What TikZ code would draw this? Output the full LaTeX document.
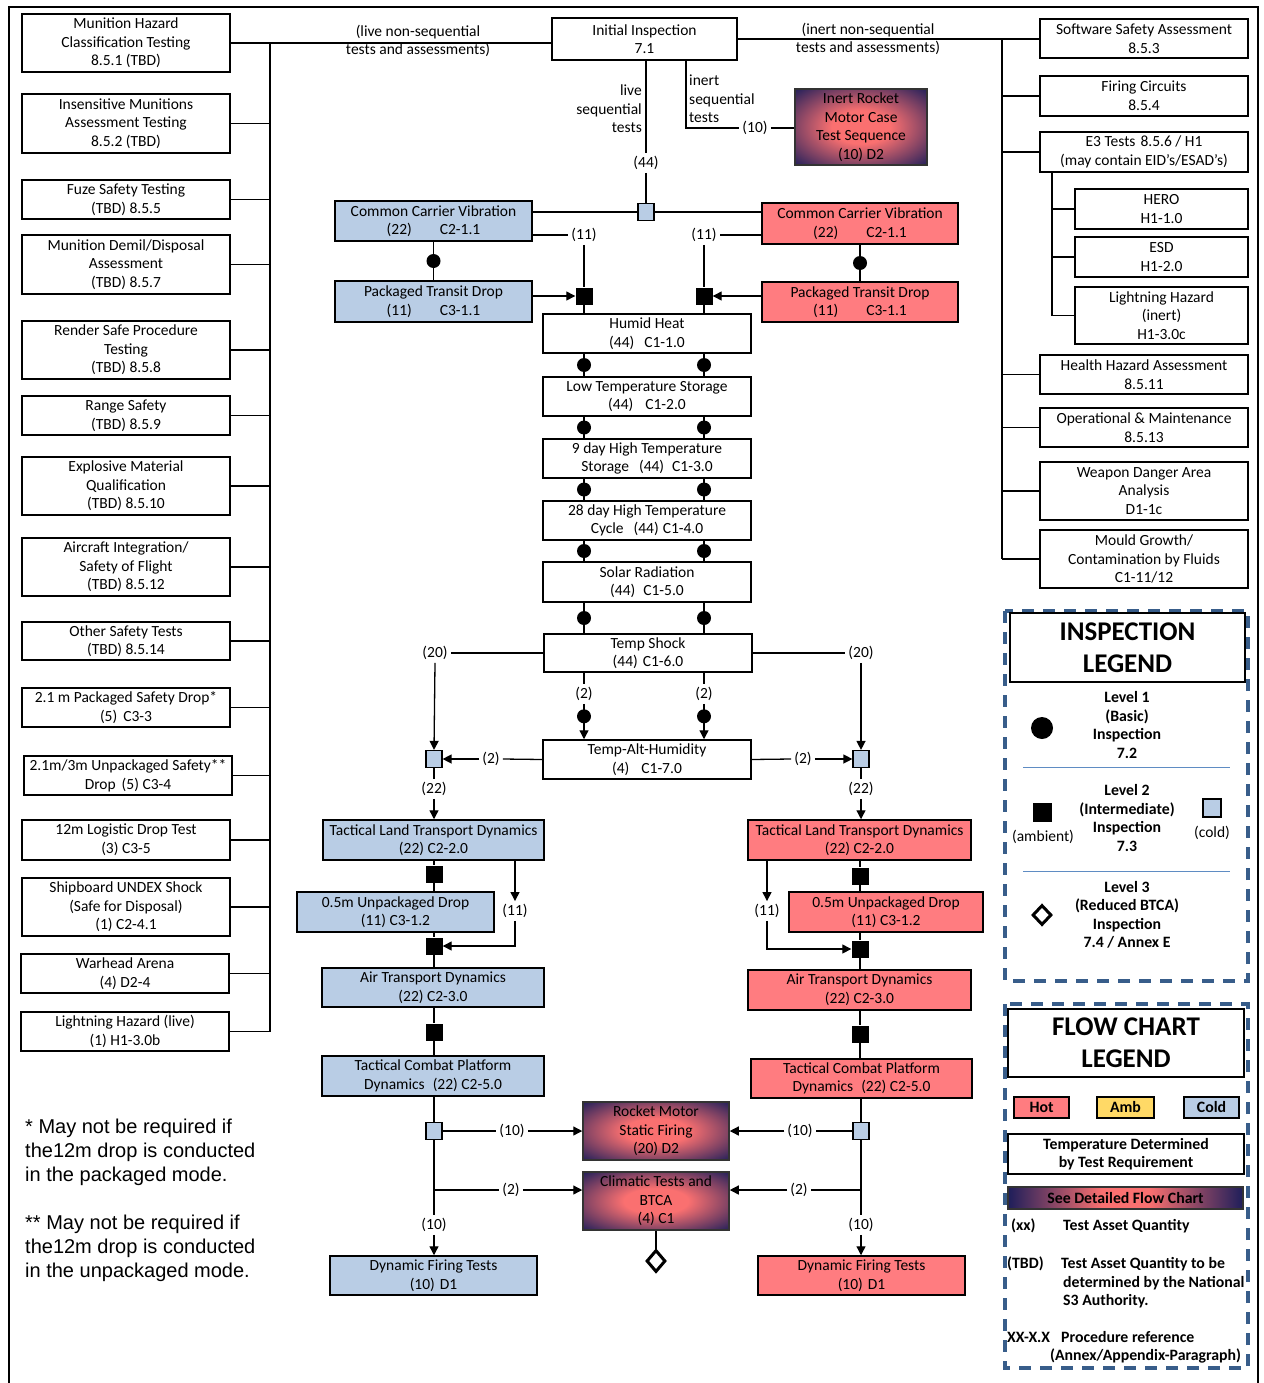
\documentclass[tikz,border=0pt]{standalone}
\usepackage{fontspec}
\setmainfont{Carlito}
\newfontfamily\arialf{Liberation Sans}
\usetikzlibrary{arrows.meta,calc,shapes.geometric}
\definecolor{coldc}{RGB}{185,205,229}
\definecolor{hotc}{RGB}{255,124,128}
\definecolor{ambc}{RGB}{255,217,102}
\definecolor{gin}{RGB}{250,112,112}
\definecolor{gout}{RGB}{30,30,90}
\definecolor{legc}{RGB}{56,93,138}
\definecolor{sepc}{RGB}{95,140,195}
\pgfdeclareradialshading{rgrad}{\pgfpoint{0bp}{0bp}}{color(0bp)=(gin); color(11bp)=(gin); color(36bp)=(gout); color(50bp)=(gout)}
\pgfdeclarehorizontalshading{hgrad}{100bp}{color(0bp)=(gout); color(25bp)=(gout); color(45bp)=(gin); color(55bp)=(gin); color(75bp)=(gout); color(100bp)=(gout)}
\newcommand\fsz{\fontsize{15.5}{18.6}\selectfont}
\newcommand\fleg{\fontsize{15.8}{18.5}\selectfont\bfseries}
\newcommand\ftitle{\fontsize{27}{32}\selectfont\bfseries}
\newcommand\fnt{\arialf\fontsize{20}{24}\selectfont}
\newcommand\mkbox[7]{\node[#2, minimum width={#5-#3}, minimum height={#6-#4}] (#1) at ({(#3+#5)/2},{(#4+#6)/2}) {#7};}
\tikzset{
 bx/.style={draw, line width=1.5pt, align=center, inner sep=0pt, font=\fsz},
 wb/.style={bx, fill=white},
 cb/.style={bx, fill=coldc},
 hb/.style={bx, fill=hotc},
 gb/.style={bx, draw=black!80, shade, shading=rgrad},
 csq/.style={draw, line width=1.2pt, fill=coldc, minimum width=16pt, minimum height=17pt, inner sep=0pt},
 bsq/.style={fill=black, minimum size=17pt, inner sep=0pt},
 bdot/.style={circle, fill=black, minimum size=14pt, inner sep=0pt},
 lbl/.style={font=\fsz, inner sep=3pt},
 ln/.style={line width=1.3pt},
 ar/.style={line width=1.3pt, -{Triangle[length=9pt,width=9pt]}},
 lgt/.style={font=\fleg, anchor=west, inner sep=0pt},
}
\begin{document}
\begin{tikzpicture}[x=1pt,y=-1pt]
\useasboundingbox (0,0) rectangle (1263,1383);
\draw[line width=2.5pt] (9,1383) -- (9,7) -- (1258,7) -- (1258,1383);
% ---------- left column
\mkbox{l1}{wb}{22}{14}{230}{72}{Munition Hazard\\Classification Testing\\8.5.1 (TBD)}
\mkbox{l2}{wb}{22}{94}{230}{153}{Insensitive Munitions\\Assessment Testing\\8.5.2 (TBD)}
\mkbox{l3}{wb}{22}{180}{230}{219}{Fuze Safety Testing\\(TBD) 8.5.5}
\mkbox{l4}{wb}{22}{235}{230}{294}{Munition Demil/Disposal\\Assessment\\(TBD) 8.5.7}
\mkbox{l5}{wb}{22}{321}{230}{379}{Render Safe Procedure\\Testing\\(TBD) 8.5.8}
\mkbox{l6}{wb}{22}{396}{230}{435}{Range Safety\\(TBD) 8.5.9}
\mkbox{l7}{wb}{22}{457}{230}{515}{Explosive Material\\Qualification\\(TBD) 8.5.10}
\mkbox{l8}{wb}{22}{538}{230}{596}{Aircraft Integration/\\Safety of Flight\\(TBD) 8.5.12}
\mkbox{l9}{wb}{22}{622}{230}{660}{Other Safety Tests\\(TBD) 8.5.14}
\mkbox{l10}{wb}{22}{688}{230}{727}{2.1 m Packaged Safety Drop*\\(5)\hspace{6pt}C3-3}
\mkbox{l11}{wb}{24}{756}{232}{795}{2.1m/3m Unpackaged Safety**\\Drop\hspace{6pt}(5) C3-4}
\mkbox{l12}{wb}{22}{820}{230}{860}{12m Logistic Drop Test\\(3) C3-5}
\mkbox{l13}{wb}{22}{878}{230}{936}{Shipboard UNDEX Shock\\(Safe for Disposal)\\(1) C2-4.1}
\mkbox{l14}{wb}{21}{954}{229}{993}{Warhead Arena\\(4) D2-4}
\mkbox{l15}{wb}{21}{1012}{229}{1051}{Lightning Hazard (live)\\(1) H1-3.0b}
% ---------- right column
\mkbox{sw}{wb}{1040}{19}{1248}{58}{Software Safety Assessment\\8.5.3}
\mkbox{fc}{wb}{1040}{76}{1248}{116}{Firing Circuits\\8.5.4}
\mkbox{e3}{wb}{1040}{132}{1248}{172}{E3 Tests\hspace{5pt}8.5.6 / H1\\(may contain EID’s/ESAD’s)}
\mkbox{hero}{wb}{1075}{189}{1248}{229}{HERO\\H1-1.0}
\mkbox{esd}{wb}{1075}{237}{1248}{277}{ESD\\H1-2.0}
\mkbox{lhi}{wb}{1075}{287}{1248}{344}{Lightning Hazard\\(inert)\\H1-3.0c}
\mkbox{hha}{wb}{1040}{355}{1248}{394}{Health Hazard Assessment\\8.5.11}
\mkbox{om}{wb}{1040}{408}{1248}{447}{Operational \& Maintenance\\8.5.13}
\mkbox{wda}{wb}{1040}{462}{1248}{520}{Weapon Danger Area\\Analysis\\D1-1c}
\mkbox{mg}{wb}{1040}{530}{1248}{588}{Mould Growth/\\Contamination by Fluids\\C1-11/12}
% ---------- top centre
\mkbox{ii}{wb}{552}{18}{737}{60}{Initial Inspection\\7.1}
\mkbox{irm}{gb}{795}{89}{927}{165}{Inert Rocket\\Motor Case\\Test Sequence\\(10) D2}
\node[font=\fsz, align=center, inner sep=0pt] (tlive) at (418,41) {(live non-sequential\\tests and assessments)};
\node[font=\fsz, align=center, inner sep=0pt] (tinert) at (868,39) {(inert non-sequential\\tests and assessments)};
\node[font=\fsz, align=right, anchor=east, inner sep=0pt] (tls) at (642,109) {live\\sequential\\tests};
\node[font=\fsz, align=left, anchor=west, inner sep=0pt] (tis) at (689,99) {inert\\sequential\\tests};
\node[lbl] (l44) at (646,163) {(44)};
\node[lbl] (l10a) at (755,128) {(10)};
\node[csq] (sq0) at (646,212) {};
\coordinate (lbus) at (270,0);
\coordinate (rbus) at (1002,0);
\coordinate (sbus) at (1052,0);
\coordinate (cx1) at (584,0);
\coordinate (cx2) at (704,0);
% ---------- carrier vibration & transit drop
\mkbox{ccvc}{cb}{335}{201}{532}{241}{Common Carrier Vibration\\(22)\hspace{28pt}C2-1.1}
\mkbox{ccvh}{hb}{762}{203}{958}{244}{Common Carrier Vibration\\(22)\hspace{28pt}C2-1.1}
\mkbox{ptdc}{cb}{335}{281}{532}{322}{Packaged Transit Drop\\(11)\hspace{28pt}C3-1.1}
\mkbox{ptdh}{hb}{762}{282}{958}{322}{Packaged Transit Drop\\(11)\hspace{28pt}C3-1.1}
\node[lbl] (l11a) at (584,235) {(11)};
\node[lbl] (l11b) at (704,235) {(11)};
\node[bsq] (bq1) at (584,296) {};
\node[bsq] (bq2) at (704,296) {};
% ---------- central chain
\mkbox{hh}{wb}{543}{314}{751}{353}{Humid Heat\\(44)\hspace{10pt}C1-1.0}
\mkbox{lts}{wb}{543}{377}{751}{416}{Low Temperature Storage\\(44)\hspace{12pt}C1-2.0}
\mkbox{d9}{wb}{543}{439}{751}{478}{9 day High Temperature\\Storage\hspace{10pt}(44)\hspace{8pt}C1-3.0}
\mkbox{d28}{wb}{543}{501}{751}{540}{28 day High Temperature\\Cycle\hspace{10pt}(44)\hspace{4pt}C1-4.0}
\mkbox{sol}{wb}{543}{562}{751}{602}{Solar Radiation\\(44)\hspace{8pt}C1-5.0}
\mkbox{ts}{wb}{544}{634}{752}{672}{Temp Shock\\(44)\hspace{5pt}C1-6.0}
\mkbox{tah}{wb}{543}{740}{751}{779}{Temp-Alt-Humidity\\(4)\hspace{12pt}C1-7.0}
\node[lbl] (l2a) at (584,694) {(2)};
\node[lbl] (l2b) at (704,694) {(2)};
\node[lbl] (l20a) at (435,653) {(20)};
\node[lbl] (l20b) at (861,653) {(20)};
\node[lbl] (l2c) at (491,759) {(2)};
\node[lbl] (l2d) at (803,759) {(2)};
\node[csq] (cs1) at (434,759) {};
\node[csq] (cs2) at (861,759) {};
\node[lbl] (l22a) at (434,789) {(22)};
\node[lbl] (l22b) at (861,789) {(22)};
% ---------- cold branch
\mkbox{tltc}{cb}{323}{820}{544}{860}{Tactical Land Transport Dynamics\\(22) C2-2.0}
\mkbox{udc}{cb}{297}{892}{494}{932}{0.5m Unpackaged Drop\\(11) C3-1.2}
\mkbox{atdc}{cb}{322}{968}{544}{1007}{Air Transport Dynamics\\(22) C2-3.0}
\mkbox{tcpc}{cb}{322}{1056}{544}{1096}{Tactical Combat Platform\\Dynamics\hspace{8pt}(22) C2-5.0}
\mkbox{dftc}{cb}{330}{1256}{537}{1295}{Dynamic Firing Tests\\(10)\hspace{5pt}D1}
\node[bsq] (bq3) at (434,874) {};
\node[bsq] (bq4) at (434,946) {};
\node[bsq] (bq5) at (434,1032) {};
\node[csq] (cs3) at (434,1131) {};
\node[lbl] (l11c) at (515,911) {(11)};
\node[lbl] (l10c) at (434,1225) {(10)};
\node[lbl] (l10d) at (512,1131) {(10)};
\node[lbl] (l2e) at (511,1190) {(2)};
% ---------- hot branch
\mkbox{tlth}{hb}{748}{820}{971}{860}{Tactical Land Transport Dynamics\\(22) C2-2.0}
\mkbox{udh}{hb}{789}{892}{983}{932}{0.5m Unpackaged Drop\\(11) C3-1.2}
\mkbox{atdh}{hb}{748}{970}{971}{1010}{Air Transport Dynamics\\(22) C2-3.0}
\mkbox{tcph}{hb}{751}{1059}{972}{1098}{Tactical Combat Platform\\Dynamics\hspace{8pt}(22) C2-5.0}
\mkbox{dfth}{hb}{758}{1256}{965}{1295}{Dynamic Firing Tests\\(10)\hspace{5pt}D1}
\node[bsq] (bq6) at (860,876) {};
\node[bsq] (bq7) at (860,949) {};
\node[bsq] (bq8) at (860,1034) {};
\node[csq] (cs4) at (861,1131) {};
\node[lbl] (l11e) at (767,911) {(11)};
\node[lbl] (l10g) at (861,1225) {(10)};
\node[lbl] (l10f) at (800,1131) {(10)};
\node[lbl] (l2f) at (799,1190) {(2)};
% ---------- centre bottom
\mkbox{rm}{gb}{583}{1102}{729}{1160}{Rocket Motor\\Static Firing\\(20) D2}
\mkbox{clim}{gb}{583}{1172}{729}{1230}{Climatic Tests and\\BTCA\\(4) C1}
\node[diamond, draw, line width=3pt, fill=white, minimum width=19pt, minimum height=22pt, inner sep=0pt] (dia) at (656,1261) {};
% ================= connectors
\draw[ln] (l1.east) -- (l1.east -| ii.west);
\draw[ln] (l1.east -| lbus) -- (l15.east -| lbus);
\foreach \n in {l2,l3,l4,l5,l6,l7,l8,l9,l10,l11,l12,l13,l14,l15}
  \draw[ln] (\n.east) -- (\n.east -| lbus);
\draw[ln] (ii.east) -- (ii.east -| sw.west);
\draw[ln] (ii.east -| rbus) -- (mg.west -| rbus);
\foreach \n in {fc,e3,hha,om,wda,mg}
  \draw[ln] (\n.west) -- (\n.west -| rbus);
\draw[ln] (e3.south -| sbus) -- (lhi.west -| sbus);
\foreach \n in {hero,esd,lhi}
  \draw[ln] (\n.west) -- (\n.west -| sbus);
% live / inert
\draw[ln] (ii.south -| l44) -- (l44.north);
\draw[ln] (l44.south) -- (sq0.north);
\draw[ln] (ii.south -| 686,0) |- (l10a.west);
\draw[ln] (l10a.east) -- (irm.west |- l10a);
\draw[ln] (ccvc.east |- sq0) -- (sq0.west);
\draw[ln] (sq0.east) -- (ccvh.west |- sq0);
% (11)
\draw[ln] (ccvc.east |- l11a) -- (l11a.west);
\draw[ln] (l11a.south) -- (bq1.north);
\draw[ln] (ccvh.west |- l11b) -- (l11b.east);
\draw[ln] (l11b.south) -- (bq2.north);
\draw[ar] (ptdc.east |- bq1) -- (bq1.west);
\draw[ar] (ptdh.west |- bq2) -- (bq2.east);
\draw[ln] (ccvc.south) -- (ptdc.north) node[bdot, midway] {};
\draw[ln] (ccvh.south) -- (ptdh.north) node[bdot, midway] {};
\draw[ln] (bq1.south) -- (hh.north -| bq1);
\draw[ln] (bq2.south) -- (hh.north -| bq2);
% central chain
\foreach \a/\b in {hh/lts,lts/d9,d9/d28,d28/sol,sol/ts} {
  \draw[ln] (\a.south -| cx1) -- (\b.north -| cx1) node[bdot, midway] {};
  \draw[ln] (\a.south -| cx2) -- (\b.north -| cx2) node[bdot, midway] {};
}
\draw[ln] (ts.south -| l2a) -- (l2a.north);
\draw[ar] (l2a.south) -- (tah.north -| l2a) node[bdot, pos=0.35] {};
\draw[ln] (ts.south -| l2b) -- (l2b.north);
\draw[ar] (l2b.south) -- (tah.north -| l2b) node[bdot, pos=0.35] {};
\draw[ln] (ts.west) -- (l20a.east);
\draw[ar] (l20a.south) -- (cs1.north);
\draw[ln] (ts.east) -- (l20b.west);
\draw[ar] (l20b.south) -- (cs2.north);
\draw[ln] (tah.west) -- (l2c.east);
\draw[ar] (l2c.west) -- (cs1.east);
\draw[ln] (tah.east) -- (l2d.west);
\draw[ar] (l2d.east) -- (cs2.west);
\draw[ln] (cs1.south) -- (l22a.north);
\draw[ar] (l22a.south) -- (tltc.north -| l22a);
\draw[ln] (cs2.south) -- (l22b.north);
\draw[ar] (l22b.south) -- (tlth.north -| l22b);
% cold branch
\draw[ln] (tltc.south -| bq3) -- (bq3.north);
\draw[ln] (bq3.south) -- (udc.north -| bq3);
\draw[ar] (tltc.south -| l11c) -- (l11c.north);
\draw[ar] (l11c.south) |- (bq4.east);
\draw[ln] (udc.south -| bq4) -- (bq4.north);
\draw[ln] (bq4.south) -- (atdc.north -| bq4);
\draw[ln] (atdc.south -| bq5) -- (bq5.north);
\draw[ln] (bq5.south) -- (tcpc.north -| bq5);
\draw[ln] (tcpc.south -| cs3) -- (cs3.north);
\draw[ln] (cs3.south) -- (l10c.north);
\draw[ar] (l10c.south) -- (dftc.north -| l10c);
\draw[ln] (cs3.east) -- (l10d.west);
\draw[ar] (l10d.east) -- (rm.west |- l10d);
\draw[ln] (cs3.south |- l2e) -- (l2e.west);
\draw[ar] (l2e.east) -- (clim.west |- l2e);
% hot branch
\draw[ln] (tlth.south -| bq6) -- (bq6.north);
\draw[ln] (bq6.south) -- (udh.north -| bq6);
\draw[ar] (tlth.south -| l11e) -- (l11e.north);
\draw[ar] (l11e.south) |- (bq7.west);
\draw[ln] (udh.south -| bq7) -- (bq7.north);
\draw[ln] (bq7.south) -- (atdh.north -| bq7);
\draw[ln] (atdh.south -| bq8) -- (bq8.north);
\draw[ln] (bq8.south) -- (tcph.north -| bq8);
\draw[ln] (tcph.south -| cs4) -- (cs4.north);
\draw[ln] (cs4.south) -- (l10g.north);
\draw[ar] (l10g.south) -- (dfth.north -| l10g);
\draw[ln] (cs4.west) -- (l10f.east);
\draw[ar] (l10f.west) -- (rm.east |- l10f);
\draw[ln] (cs4.south |- l2f) -- (l2f.east);
\draw[ar] (l2f.west) -- (clim.east |- l2f);
\draw[ln] (clim.south) -- (dia.north);
% ---------- footnotes
\node[font=\fnt, align=left, anchor=north west, inner sep=0pt] (fn1) at (25,1119) {* May not be required if\\the12m drop is conducted\\in the packaged mode.};
\node[font=\fnt, align=left, anchor=north west, inner sep=0pt] (fn2) at (25,1215) {** May not be required if\\the12m drop is conducted\\in the unpackaged mode.};
% ---------- inspection legend
\draw[legc, line width=3.5pt, dash pattern=on 12pt off 9pt] (1005,611) rectangle (1248,981);
\mkbox{tit1}{wb, font=\ftitle}{1010}{613}{1245}{682}{INSPECTION\\LEGEND}
\node[font=\fleg, align=center] (lv1) at (1127,725) {Level 1\\(Basic)\\Inspection\\7.2};
\node[circle, fill=black, minimum size=22pt, inner sep=0pt] (lc) at (1042,728) {};
\draw[sepc, line width=1pt] (1023,767) -- (1230,767);
\node[font=\fleg, align=center] (lv2) at (1127,818) {Level 2\\(Intermediate)\\Inspection\\7.3};
\node[fill=black, minimum size=19pt, inner sep=0pt] (lsq) at (1042,812) {};
\node[font=\fsz, inner sep=0pt] (lamb) at (1043,837) {(ambient)};
\node[draw, line width=1.2pt, fill=coldc, minimum size=18pt, inner sep=0pt] (lcs) at (1212,808) {};
\node[font=\fsz, inner sep=0pt] (lcold) at (1212,833) {(cold)};
\draw[sepc, line width=1pt] (1023,871) -- (1230,871);
\node[font=\fleg, align=center] (lv3) at (1127,915) {Level 3\\(Reduced BTCA)\\Inspection\\7.4 / Annex E};
\node[diamond, draw, line width=3pt, fill=white, minimum width=19pt, minimum height=20pt, inner sep=0pt] (ldia) at (1042,915) {};
% ---------- flow chart legend
\draw[legc, line width=3.5pt, dash pattern=on 12pt off 9pt] (1005,1004) rectangle (1248,1368);
\mkbox{tit2}{wb, font=\ftitle}{1008}{1009}{1244}{1077}{FLOW CHART\\LEGEND}
\mkbox{lhot}{hb, font=\fleg}{1014}{1097}{1069}{1118}{Hot}
\mkbox{lamb2}{bx, fill=ambc, font=\fleg}{1097}{1097}{1154}{1118}{Amb}
\mkbox{lcld}{cb, font=\fleg}{1184}{1097}{1239}{1118}{Cold}
\mkbox{ltd}{wb, font=\fleg}{1008}{1134}{1244}{1174}{Temperature Determined\\by Test Requirement}
\mkbox{lsd}{bx, draw=black!80, shade, shading=hgrad, font=\fleg}{1008}{1187}{1243}{1209}{See Detailed Flow Chart}
\node[lgt] at (1011,1226) {(xx)};
\node[lgt] at (1063,1226) {Test Asset Quantity};
\node[lgt] at (1007,1264) {(TBD)};
\node[lgt] at (1061,1264) {Test Asset Quantity to be};
\node[lgt] at (1063,1283) {determined by the National};
\node[lgt] at (1063,1301) {S3 Authority.};
\node[lgt] at (1007,1337) {XX-X.X};
\node[lgt] at (1061,1337) {Procedure reference};
\node[lgt] at (1050,1356) {(Annex/Appendix-Paragraph)};
\end{tikzpicture}
\end{document}
